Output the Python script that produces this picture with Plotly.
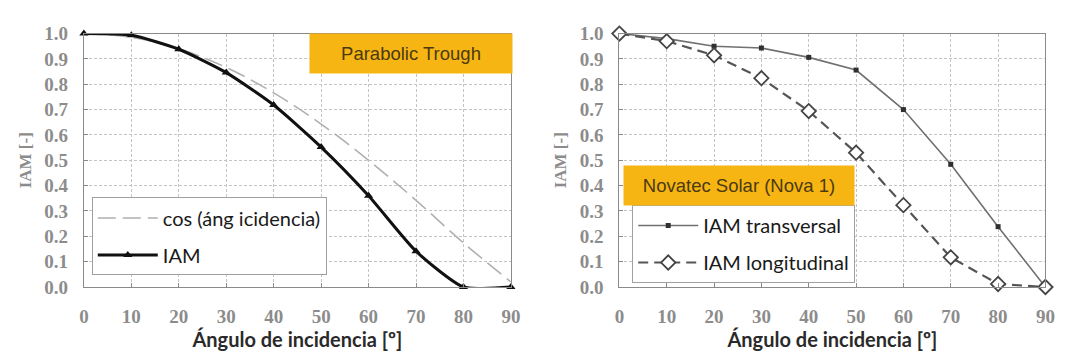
import plotly.graph_objects as go

angles = [0, 10, 20, 30, 40, 50, 60, 70, 80, 90]
cos_vals = [1.0, 0.985, 0.94, 0.866, 0.766, 0.643, 0.50, 0.342, 0.174, 0.02]
iam_pt = [1.0, 0.993, 0.938, 0.846, 0.718, 0.552, 0.36, 0.141, 0.0, 0.0]
iam_trans = [1.0, 0.98, 0.95, 0.943, 0.906, 0.856, 0.70, 0.484, 0.238, 0.0]
iam_long = [1.0, 0.97, 0.914, 0.824, 0.694, 0.53, 0.323, 0.117, 0.012, 0.0]
y_ticks = [0.0, 0.1, 0.2, 0.3, 0.4, 0.5, 0.6, 0.7, 0.8, 0.9, 1.0]
x_ticks = angles

W, H = 1086, 363
fig = go.Figure()

fig.add_trace(go.Scatter(x=angles, y=cos_vals, mode="lines", name="cos (áng icidencia)",
                         line=dict(color="#b0b0b0", width=1.6, dash="18px,7px", shape="spline"),
                         xaxis="x", yaxis="y", legend="legend", legendgroup="a", cliponaxis=False))
fig.add_trace(go.Scatter(x=angles, y=iam_pt, mode="lines+markers", name="IAM",
                         line=dict(color="#111111", width=3, shape="spline", smoothing=0.6),
                         marker=dict(symbol="triangle-up", size=8, color="#111111"),
                         xaxis="x", yaxis="y", legend="legend", legendgroup="b", cliponaxis=False))
fig.add_trace(go.Scatter(x=angles, y=iam_trans, mode="lines+markers", name="IAM transversal",
                         line=dict(color="#707070", width=1.6),
                         marker=dict(symbol="square", size=5, color="#303030"),
                         xaxis="x2", yaxis="y2", legend="legend2", legendgroup="c", cliponaxis=False))
fig.add_trace(go.Scatter(x=angles, y=iam_long, mode="lines+markers", name="IAM longitudinal",
                         line=dict(color="#555555", width=2.2, dash="10px,6px"),
                         marker=dict(symbol="diamond", size=11, color="white",
                                     line=dict(color="#444444", width=1.8)),
                         xaxis="x2", yaxis="y2", legend="legend2", legendgroup="d", cliponaxis=False))

def px(v):
    return v / W

def py(v):
    return 1 - v / H

tick_font = dict(family="Liberation Serif", size=19, color="#8c8c8c", weight="bold")
xtitle_font = dict(family="Lato", size=20, color="#2a2a2a", weight="bold")
ytitle_font = dict(family="Liberation Serif", size=17, color="#8c8c8c", weight="bold")

common_x = dict(range=[0, 90], tickmode="array", tickvals=x_ticks, ticktext=[str(t) for t in x_ticks],
                showgrid=True, gridcolor="#c4c4c4", griddash="3px,2px", gridwidth=1,
                showline=True, linecolor="#8a8a8a", linewidth=1.2, mirror=True,
                ticks="inside", ticklen=4, tickcolor="#8a8a8a", tickfont=tick_font, zeroline=False,
                ticklabelstandoff=12, fixedrange=True)
common_y = dict(range=[0, 1.0], tickmode="array", tickvals=y_ticks,
                ticktext=[f"{t:.1f}" for t in y_ticks],
                showgrid=True, gridcolor="#c4c4c4", griddash="3px,2px", gridwidth=1,
                showline=True, linecolor="#8a8a8a", linewidth=1.2, mirror=True,
                ticks="inside", ticklen=4, tickcolor="#8a8a8a", tickfont=tick_font, zeroline=False,
                ticklabelstandoff=11, fixedrange=True)

leg_font = dict(family="Lato", size=20, color="#1a1a1a")

fig.update_layout(
    width=W, height=H,
    margin=dict(l=0, r=0, t=0, b=0),
    paper_bgcolor="white", plot_bgcolor="white",
    xaxis=dict(common_x, domain=[px(80), px(513)], anchor="y",
               title=dict(text="Ángulo de incidencia [º]", font=xtitle_font, standoff=2)),
    yaxis=dict(common_y, domain=[py(294), py(25)], anchor="x",
               title=dict(text="IAM [-]", font=ytitle_font, standoff=8)),
    xaxis2=dict(common_x, domain=[px(623), px(1055)], anchor="y2",
                title=dict(text="Ángulo de incidencia [º]", font=xtitle_font, standoff=2)),
    yaxis2=dict(common_y, domain=[py(294), py(25)], anchor="x2",
                title=dict(text="IAM [-]", font=ytitle_font, standoff=8)),
    legend=dict(x=px(88), y=py(199), xanchor="left", yanchor="top",
                bgcolor="white", bordercolor="#a0a0a0", borderwidth=1,
                font=leg_font, itemwidth=60, tracegroupgap=8, itemclick=False),
    legend2=dict(x=px(636), y=py(207), xanchor="left", yanchor="top",
                 bgcolor="white", bordercolor="#a0a0a0", borderwidth=1,
                 font=leg_font, itemwidth=60, tracegroupgap=8, itemclick=False),
    showlegend=True,
)

box_font = dict(family="Liberation Sans", size=18.5, color="#4a3a10")
fig.add_annotation(xref="paper", yref="paper", x=px(412), y=py(46.5), text="Parabolic Trough",
                   showarrow=False, font=box_font, bgcolor="#f7b514",
                   width=200, height=37, xanchor="center", yanchor="middle")
fig.add_annotation(xref="paper", yref="paper", x=px(744), y=py(186.5), text="Novatec Solar (Nova 1)",
                   showarrow=False, font=box_font, bgcolor="#f7b514",
                   width=228, height=37, xanchor="center", yanchor="middle")

fig.write_html("out.html")
